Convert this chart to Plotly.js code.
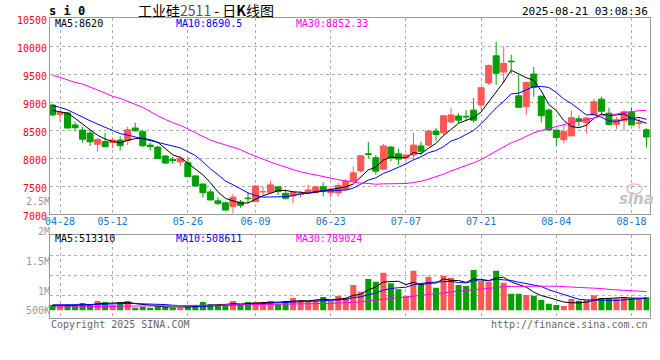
<!DOCTYPE html>
<html><head><meta charset="utf-8">
<script src="https://cdn.plot.ly/plotly-3.0.1.min.js"></script>
<style>html,body{margin:0;padding:0;background:#fff}#chart{width:660px;height:360px}</style>
</head><body><div id="chart"></div>
<script>
// ---------------- data ----------------
const dates = ['04-25','04-28','04-29','04-30','05-06','05-07','05-08','05-09','05-12','05-13',
'05-14','05-15','05-16','05-19','05-20','05-21','05-22','05-23','05-26','05-27',
'05-28','05-29','05-30','06-03','06-04','06-05','06-06','06-09','06-10','06-11',
'06-12','06-13','06-16','06-17','06-18','06-19','06-20','06-23','06-24','06-25',
'06-26','06-27','06-30','07-01','07-02','07-03','07-04','07-07','07-08','07-09',
'07-10','07-11','07-14','07-15','07-16','07-17','07-18','07-21','07-22','07-23',
'07-24','07-25','07-28','07-29','07-30','07-31','08-01','08-04','08-05','08-06',
'08-07','08-08','08-11','08-12','08-13','08-14','08-15','08-18','08-19','08-20'];

const open = [8945,8780,8805,8590,8500,8445,8245,8295,8275,8320,
8310,8535,8470,8230,8195,8035,7975,7930,7915,7680,
7535,7395,7235,7200,7130,7215,7285,7220,7395,7380,
7485,7370,7325,7355,7380,7380,7485,7380,7375,7435,
7590,7770,8075,8005,7800,8195,8075,8000,8055,8215,
8230,8480,8450,8645,8750,8745,8855,8945,9340,9825,
9535,9730,9110,8915,9500,9105,8855,8500,8325,8395,
8700,8630,8770,9050,8800,8600,8665,8815,8620,8505];

const high = [8965,8825,8815,8650,8555,8520,8360,8450,8365,8390,
8555,8630,8495,8275,8215,8055,8025,8035,8005,7695,
7545,7445,7300,7220,7355,7250,7380,7520,7485,7595,
7500,7440,7395,7410,7520,7505,7565,7470,7560,7620,
7845,8040,8290,8055,8250,8215,8165,8065,8450,8290,
8500,8535,8760,8895,8800,8855,9070,9265,9670,10075,
9990,9845,9480,9360,9625,9105,8885,8500,8590,8845,
8760,8740,9055,9095,8900,8725,8850,8905,8715,8530];

const low = [8750,8650,8530,8490,8275,8215,8115,8200,8175,8130,
8230,8475,8195,8135,7990,7895,7895,7855,7660,7500,
7295,7250,7160,7060,7010,7110,7190,7220,7315,7370,
7340,7260,7190,7290,7370,7370,7320,7295,7310,7420,
7575,7740,7995,7705,7785,7940,7875,7935,7975,8055,
8210,8310,8410,8620,8625,8660,8630,8850,9305,9305,
9345,9505,8905,8775,9095,8630,8500,8215,8260,8395,
8560,8440,8770,8770,8580,8520,8490,8590,8525,8190];

const close = [8770,8815,8535,8540,8335,8290,8330,8200,8320,8220,
8505,8485,8220,8205,7990,7910,7955,7995,7665,7500,
7380,7250,7190,7070,7300,7155,7275,7500,7400,7520,
7400,7280,7385,7360,7430,7485,7400,7445,7510,7585,
7735,8040,8065,7765,8215,8000,7980,8055,8230,8120,
8480,8420,8755,8770,8675,8735,8675,9255,9650,9515,
9690,9720,8905,9350,9260,8755,8500,8365,8470,8720,
8650,8715,9005,8835,8600,8685,8825,8590,8625,8375];

const volume = [224000,182000,224000,210000,309000,252000,393000,351000,224000,351000,
393000,111000,154000,111000,182000,154000,111000,111000,154000,224000,
351000,266000,224000,182000,393000,266000,351000,351000,351000,393000,
266000,393000,520000,436000,393000,436000,563000,393000,605000,534000,
1070000,788000,1324000,1211000,1592000,1142000,888000,605000,1676000,1113000,
1423000,957000,1465000,1380000,1070000,1028000,1700000,1240000,1211000,1670000,
1167610,703000,703000,647000,619000,436000,281000,224000,182000,478000,
407000,436000,636560,520000,520000,495000,535000,505000,480000,551550];

const ma5Head  = [8850,8830,8800,8710];
const ma10Head = [8935,8905,8860,8790,8720,8665,8605,8550,8495];
const ma30Head = [9475,9443,9395,9350,9320,9272,9213,9160,9100,9065,9005,8958,8905,8825,8755,
                  8690,8630,8585,8520,8445,8390,8320,8275,8235,8190,8150,8085,8030,7980];
const vma5Head  = [210000,205000,210000,215000];
const vma10Head = [230000,225000,225000,225000,235000,240000,255000,265000,265000];
const vma30Head = [135000,138000,140000,142000,146000,150000,155000,160000,163000,168000,
                   172000,172000,175000,177000,180000,182000,184000,186000,190000,195000,
                   200000,205000,208000,212000,220000,226000,232000,238000,245000];

const tickDates   = ['04-28','05-12','05-26','06-09','06-23','07-07','07-21','08-04','08-18'];
const priceTicks  = [7000,7500,8000,8500,9000,9500,10000,10500];
const volLabelText = ['2.5M','2M','1.5M','1M','500K'];

const symbolText = 's i 0';
const titleText = '工业硅<span style="color:#555">2511</span> - 日<b>K</b>线图';
const timeText = '2025-08-21 03:08:36';
const copyText = 'Copyright 2025 SINA.COM';
const urlText = 'http://finance.sina.com.cn';

// ---------------- helpers ----------------
function movingAvg(values, n, head) {
  return values.map((v, i) => {
    if (i < n - 1) return head[i];
    let s = 0;
    for (let k = i - n + 1; k <= i; k++) s += values[k];
    return s / n;
  });
}
const ma5 = movingAvg(close, 5, ma5Head);
const ma10 = movingAvg(close, 10, ma10Head);
const ma30 = movingAvg(close, 30, ma30Head);
const vma5 = movingAvg(volume, 5, vma5Head);
const vma10 = movingAvg(volume, 10, vma10Head);
const vma30 = movingAvg(volume, 30, vma30Head);
const last = a => a[a.length - 1];
const fmtP = v => String(Math.round(v * 100) / 100);
const fmtV = v => String(Math.round(v));

// ---------------- styling / geometry ----------------
const W = 660, H = 360;
const RED = '#ff5757', GREEN = '#00a000';
const MONO = 'DejaVu Sans Mono';
const GRID = '#b0b0b0', BORDER = '#9a9a9a';
const px = x => x / W, py = y => 1 - y / H;
const plotL = 50, plotR = 649.5;
const xDom = [px(plotL), px(plotR)];
const xRange = [-0.33, 79.39];
const topPx = [18, 214];          // top / bottom pixel of price panel
const volPx = [234.7, 318.3];     // top / bottom pixel of volume panel
const volRange = [-338400, 3197880];
const volGridPx = [255, 275, 295];
const lblPx = [195, 318];          // aux label axis span
const lblRange = [550000, 2600000];
const volLabelPx = [201, 231.5, 261, 291, 310];

function valAt(pxY, pix, range) {
  return range[0] + (pix[1] - pxY) / (pix[1] - pix[0]) * (range[1] - range[0]);
}

const volColors = close.map((c, i) => c >= open[i] ? RED : GREEN);

const traces = [
  {type: 'candlestick', x: dates, open: open, high: high, low: low, close: close,
   xaxis: 'x', yaxis: 'y', whiskerwidth: 0, hoverinfo: 'none',
   increasing: {line: {color: RED, width: 1}, fillcolor: RED},
   decreasing: {line: {color: GREEN, width: 1}, fillcolor: GREEN}},
  {type: 'scatter', mode: 'lines', x: dates, y: ma5, xaxis: 'x', yaxis: 'y', line: {color: '#000000', width: 1}, hoverinfo: 'none'},
  {type: 'scatter', mode: 'lines', x: dates, y: ma10, xaxis: 'x', yaxis: 'y', line: {color: '#0000ff', width: 1}, hoverinfo: 'none'},
  {type: 'scatter', mode: 'lines', x: dates, y: ma30, xaxis: 'x', yaxis: 'y', line: {color: '#ff00ff', width: 1}, hoverinfo: 'none'},
  {type: 'bar', x: dates, y: volume, xaxis: 'x2', yaxis: 'y2', width: 0.8,
   marker: {color: volColors, line: {width: 0}}, hoverinfo: 'none'},
  {type: 'scatter', mode: 'lines', x: dates, y: vma5, xaxis: 'x2', yaxis: 'y2', line: {color: '#000000', width: 1}, hoverinfo: 'none'},
  {type: 'scatter', mode: 'lines', x: dates, y: vma10, xaxis: 'x2', yaxis: 'y2', line: {color: '#0000ff', width: 1}, hoverinfo: 'none'},
  {type: 'scatter', mode: 'lines', x: dates, y: vma30, xaxis: 'x2', yaxis: 'y2', line: {color: '#ff00ff', width: 1}, hoverinfo: 'none'},
  {type: 'scatter', mode: 'markers', x: [], y: [], xaxis: 'x3', yaxis: 'y3', hoverinfo: 'none'}
];

function ann(text, x, y, xanchor, color, extra) {
  return Object.assign({text: text, xref: 'paper', yref: 'paper', x: px(x), y: py(y),
    xanchor: xanchor, yanchor: 'middle', showarrow: false,
    font: {family: MONO, size: 10, color: color}}, extra || {});
}

const annotations = [
  ann(symbolText, 47, 11, 'left', '#000', {font: {family: MONO, size: 12, color: '#000', weight: 'bold'}}),
  ann(timeText, 650, 12, 'right', '#000', {font: {family: MONO, size: 11, color: '#000'}}),
  ann('MA5:' + fmtP(last(ma5)), 53, 24, 'left', '#000000'),
  ann('MA10:' + fmtP(last(ma10)), 174, 24, 'left', '#0000ff'),
  ann('MA30:' + fmtP(last(ma30)), 294, 24, 'left', '#ff00ff'),
  ann('MA5:' + fmtV(last(vma5)), 53, 238, 'left', '#000000'),
  ann('MA10:' + fmtV(last(vma10)), 174, 238, 'left', '#0000ff'),
  ann('MA30:' + fmtV(last(vma30)), 294, 238, 'left', '#ff00ff'),
  ann(copyText, 49, 324, 'left', '#666666'),
  ann(urlText, 650, 324, 'right', '#666666'),
  ann('sina', 636, 199, 'center', '#c4c4c4', {font: {family: 'DejaVu Sans', size: 15, color: '#c4c4c4', weight: 'bold', style: 'italic'}})
];

const shapes = [
  {type: 'circle', xref: 'paper', yref: 'paper', x0: px(627), x1: px(642), y0: py(184), y1: py(194),
   line: {color: '#f2b8b8', width: 1.5}, fillcolor: 'rgba(0,0,0,0)', layer: 'above'}
];

const commonX = {
  type: 'category', domain: xDom, range: xRange, tickvals: tickDates, ticktext: tickDates,
  showgrid: true, gridcolor: GRID, griddash: 'dot', gridwidth: 1,
  showline: true, linecolor: BORDER, linewidth: 1, mirror: true, ticks: '',
  zeroline: false, fixedrange: true
};

const layout = {
  width: W, height: H, margin: {l: 0, r: 0, t: 0, b: 0, pad: 0},
  paper_bgcolor: '#ffffff', plot_bgcolor: 'rgba(0,0,0,0)', showlegend: false,
  boxgap: 0.2, boxgroupgap: 0, bargap: 0.2,
  title: {text: titleText, x: px(206), xanchor: 'center', y: py(11), yanchor: 'middle',
          font: {family: 'Noto Sans CJK SC', size: 14, color: '#000'}},
  xaxis: Object.assign({}, commonX, {anchor: 'y', rangeslider: {visible: false},
          ticklabelstandoff: -2,
          tickfont: {family: MONO, size: 10, color: '#1677cc'}}),
  yaxis: {domain: [py(topPx[1]), py(topPx[0])], range: [7000, 10500], tickvals: priceTicks,
          tickformat: 'd', tickfont: {family: MONO, size: 10, color: '#ff0000'}, ticklabelshift: 2,
          showgrid: true, gridcolor: GRID, griddash: 'dot', showline: true, linecolor: BORDER,
          linewidth: 1, mirror: true, ticks: '', zeroline: false, anchor: 'x', fixedrange: true},
  xaxis2: Object.assign({}, commonX, {anchor: 'y2', showticklabels: false}),
  yaxis2: {domain: [py(volPx[1]), py(volPx[0])], range: volRange,
           tickvals: volGridPx.map(p => valAt(p, volPx, volRange)), showticklabels: false,
           showgrid: true, gridcolor: GRID, griddash: 'dot', showline: true, linecolor: BORDER,
           linewidth: 1, mirror: true, ticks: '', zeroline: false, anchor: 'x2', fixedrange: true},
  xaxis3: {domain: xDom, range: [0, 1], visible: false, anchor: 'y3', fixedrange: true},
  yaxis3: {domain: [py(lblPx[1]), py(lblPx[0])], range: lblRange,
           tickvals: volLabelPx.map(p => valAt(p, lblPx, lblRange)), ticktext: volLabelText,
           tickfont: {family: MONO, size: 10, color: '#999999'},
           showgrid: false, showline: false, zeroline: false, ticks: '',
           anchor: 'free', position: px(plotL), side: 'left', fixedrange: true},
  annotations: annotations,
  shapes: shapes
};

Plotly.newPlot('chart', traces, layout, {staticPlot: true, displayModeBar: false});
</script></body></html>
